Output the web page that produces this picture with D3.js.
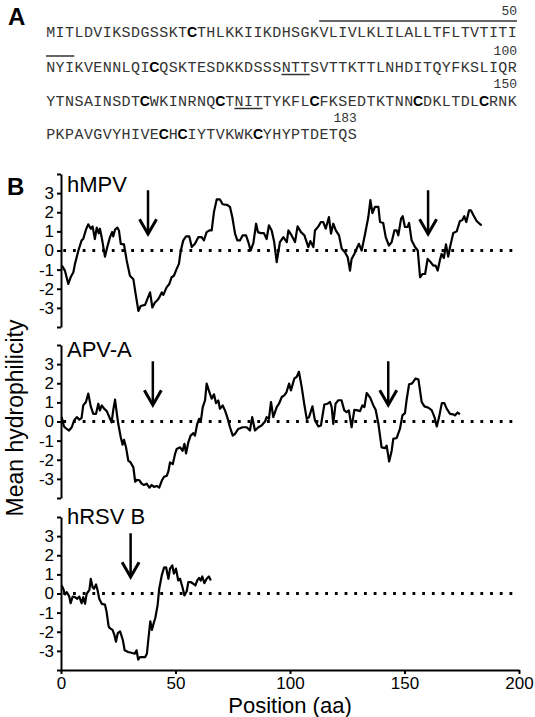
<!DOCTYPE html>
<html>
<head>
<meta charset="utf-8">
<script src="https://cdn.jsdelivr.net/npm/d3@7"></script>
<style>
  body { margin: 0; background: #fff; }
  svg { display: block; }
</style>
</head>
<body>
<svg id="fig" width="535" height="717"></svg>
<script>
// Panel A: protein sequence, 50 residues per row
const seqLines = [
    "MITLDVIKSDGSSKTCTHLKKIIKDHSGKVLIVLKLILALLTFLTVTITI",
    "NYIKVENNLQICQSKTESDKKDSSSNTTSVTTKTTLNHDITQYFKSLIQR",
    "YTNSAINSDTCWKINRNQCTNITTYKFLCFKSEDTKTNNCDKLTDLCRNK",
    "PKPAVGVYHIVECHCIYTVKWKCYHYPTDETQS"
];
const seqNumbers = ["50", "100", "150", "183"];
// [row, first residue, last residue (exclusive)]
const overlines = [[0, 29, 50], [1, 0, 3]];
const underlines = [[1, 25, 28], [2, 20, 23]];

// Panel B: hydrophilicity profiles [position, mean hydrophilicity]
const panelNames = ["hMPV", "APV-A", "hRSV B"];
const hmpv = [
    [0.4,-0.79],[1.7,-1.05],[3.2,-1.75],[4.2,-1.4],[5.4,-1.14],[6.1,-0.7],[7.6,0],[9.0,0.53],[9.7,0.6],
    [10.9,1.09],[11.9,1.37],[13.0,1.14],[13.8,1.26],[14.8,0.6],[15.6,1.2],[16.5,0.9],[17.0,1.14],[17.8,0.67],
    [19.2,-0.32],[20.2,0.18],[21.4,0.7],[22.3,0.96],[22.8,0.74],[23.6,1.09],[24.6,1.2],[25.3,1.05],[26.1,0.35],
    [27.5,0.32],[28.7,-0.53],[30.1,-1.32],[31.6,-1.5],[32.6,-2.28],[33.8,-3.16],[34.8,-2.9],[36.7,-2.84],
    [37.7,-2.54],[38.9,-2.19],[39.9,-2.98],[41.0,-2.72],[42.1,-2.6],[42.9,-2.46],[44.0,-2.19],[44.7,-2.32],
    [46.1,-1.93],[47.3,-1.75],[48.3,-1.4],[49.3,-1.32],[50.5,-0.96],[51.5,-0.7],[52.3,0],[53.4,0.53],
    [54.6,0.74],[56.0,0.74],[57.1,0.18],[58.5,0.35],[60.0,0.7],[61.4,0.7],[62.4,0.53],[63.6,0.96],[64.8,1.05],
    [65.8,1.05],[66.8,2.02],[68.0,2.67],[69.4,2.67],[70.6,2.42],[72.4,2.39],[73.8,2.28],[74.8,1.75],[76.0,0.88],
    [77.0,0.53],[78.2,0.53],[79.3,0.79],[80.8,0.79],[81.8,0.44],[82.8,0],[84.0,0.39],[85.2,1.4],[86.0,0.96],
    [87.2,0.91],[88.6,0.91],[89.8,0.6],[90.8,1.32],[92.0,1.05],[93.1,0.44],[94.2,-0.61],[95.6,0.44],[97.1,0.7],
    [98.6,0.44],[99.3,1.05],[100.7,0.79],[102.2,0.44],[103.3,1.26],[104.8,0.96],[106.3,0.79],[108.0,0.18],
    [108.9,0.49],[110.2,0.18],[110.9,1.05],[112.4,1.26],[113.5,1.49],[114.5,1.49],[115.6,1.14],[117.0,1.75],
    [117.9,0.88],[118.9,1.4],[120.0,1.05],[121.4,0.79],[122.6,0.09],[124.0,-0.09],[125.2,-0.35],[126.2,-1.05],
    [126.9,-0.44],[128.1,-0.18],[129.1,0.09],[130.1,0.35],[131.3,0],[132.8,0.88],[134.2,1.75],[135.1,2.63],
    [136.0,1.96],[137.1,2.28],[138.6,2.28],[139.3,1.49],[140.7,1.44],[141.8,0.7],[143.2,0.26],[144.4,0.44],
    [145.6,1.05],[146.6,1.05],[147.3,0.79],[148.5,1.67],[149.2,1.79],[150.2,1.23],[151.4,1.23],[152.0,1.44],
    [153.1,0.53],[154.6,0.18],[155.8,0],[156.8,-1.4],[157.8,-1.23],[159.0,-1.23],[160.1,-0.44],[161.1,-0.56],
    [162.6,-0.79],[163.6,-0.79],[164.5,-1.05],[165.5,-0.49],[166.2,-0.18],[167.2,-0.39],[168.1,0.32],
    [169.1,-0.32],[169.9,0.18],[171.3,0.91],[172.8,1.0],[174.2,1.54],[175.2,1.58],[176.1,1.79],[177.0,1.49],
    [178.2,2.1],[179.0,2.1],[180.1,1.84],[181.5,1.54],[183.0,1.37],[183.7,1.32]
];
const apvA = [
    [0.3,0.23],[1.3,-0.26],[2.5,-0.39],[3.5,-0.47],[4.7,-0.3],[5.7,0.05],[6.9,0.23],[8.0,0.09],[9.0,0.19],
    [9.7,0.84],[10.9,1.02],[11.9,1.46],[13.0,0.79],[14.1,0.4],[15.3,0.4],[16.3,0.93],[17.0,0.58],[17.8,0.84],
    [18.8,0.67],[20.0,0.54],[21.1,0.23],[22.1,-0.04],[22.8,0.58],[23.6,1.14],[24.3,0.49],[25.0,-0.12],
    [26.1,-0.82],[26.9,-1.21],[27.5,-0.96],[28.4,-1.35],[29.4,-2.05],[30.4,-2.14],[31.6,-2.4],[32.4,-3.15],
    [33.2,-3.05],[34.2,-3.07],[35.2,-3.25],[36.2,-3.32],[37.4,-3.25],[38.6,-3.46],[39.6,-3.32],[40.6,-3.42],
    [41.8,-3.37],[42.9,-3.46],[44.0,-3.1],[45.0,-2.89],[46.2,-2.84],[46.9,-2.6],[47.6,-2.14],[48.8,-2.23],
    [49.8,-1.7],[50.5,-1.44],[52.0,-1.35],[53.1,-1.53],[53.9,-1.17],[54.6,-1.67],[55.6,-1.09],[56.6,-0.74],
    [57.8,-0.61],[58.5,-0.74],[59.5,-0.12],[60.3,0.14],[61.1,0.05],[61.9,0.75],[62.9,1.1],[63.6,1.98],
    [64.8,1.54],[65.8,1.19],[66.8,1.42],[67.7,0.96],[68.7,1.1],[69.4,0.67],[70.6,0.84],[71.6,0.58],[72.6,0.23],
    [73.8,-0.3],[75.0,-0.74],[76.0,-0.65],[77.4,-0.39],[79.3,-0.3],[81.1,-0.3],[82.5,-0.47],[83.5,0.23],
    [84.7,-0.47],[86.2,-0.3],[87.6,-0.21],[89.1,0.0],[89.8,0.23],[90.8,0.14],[91.7,1.02],[92.7,0.23],
    [94.2,0.75],[95.2,0.93],[96.4,1.28],[97.5,1.37],[98.5,1.54],[99.6,1.98],[100.4,1.63],[101.9,2.25],
    [102.9,2.33],[103.9,2.6],[105.1,1.81],[106.2,0.93],[107.3,0.14],[108.3,0.23],[109.8,0.79],[110.9,0.05],
    [112.4,-0.26],[113.5,-0.21],[115.0,0.89],[116.4,0.93],[117.5,1.02],[118.2,0.75],[118.9,-0.12],[119.9,0.93],
    [121.1,1.11],[122.5,1.11],[123.7,0.58],[124.7,0.49],[125.7,0.58],[126.9,-0.3],[128.1,0.61],[129.5,0.58],
    [130.6,0.54],[131.6,0.84],[132.5,0.75],[133.5,1.49],[135.0,1.25],[136.4,0.84],[137.4,0.61],[138.6,-0.12],
    [140.0,-1.35],[141.5,-1.39],[142.2,-1.26],[143.3,-2.09],[144.4,-1.53],[145.1,-0.91],[146.6,-0.86],
    [148.0,-0.39],[149.1,0.32],[150.2,0.44],[150.9,1.11],[152.0,1.95],[153.1,1.98],[153.8,2.07],[154.9,2.25],
    [156.1,2.19],[157.5,1.02],[158.7,0.79],[160.5,0.72],[161.9,0.58],[163.1,0.23],[164.1,-0.26],[165.1,0.23],
    [166.3,0.96],[167.4,0.96],[168.4,0.67],[169.9,0.4],[171.3,0.37],[172.0,0.32],[173.2,0.47],[174.2,0.37]
];
const hrsvB = [
    [0.3,0.42],[1.0,0.25],[1.7,-0.05],[2.5,0.07],[3.6,-0.16],[4.2,-0.51],[5.1,-0.16],[6.1,-0.19],[7.1,-0.28],
    [8.0,-0.16],[9.0,-0.51],[9.7,-0.19],[10.5,-0.54],[11.2,-0.02],[12.4,0.19],[13.0,0.77],[13.8,0.33],
    [14.4,0.25],[15.3,0.47],[16.0,0.16],[16.7,-0.28],[17.8,-0.54],[19.2,-0.58],[19.9,-0.95],[20.8,-1.72],
    [21.3,-1.81],[22.5,-1.9],[23.3,-2.16],[24.0,-2.52],[24.8,-2.07],[25.8,-1.98],[27.0,-2.43],[27.8,-2.97],
    [29.3,-3.06],[30.7,-3.1],[32.2,-3.15],[33.0,-2.97],[33.7,-3.46],[34.5,-3.33],[35.7,-3.33],[36.7,-3.33],
    [37.5,-3.15],[38.2,-2.34],[39.0,-1.45],[39.7,-1.9],[40.4,-1.59],[41.2,-1.27],[42.2,-0.6],[42.9,0.25],
    [44.0,0.95],[45.0,1.35],[45.9,1.37],[46.9,0.77],[47.6,1.3],[48.6,1.47],[49.3,1.04],[50.2,1.3],[51.2,0.68],
    [52.0,0.77],[53.1,0.3],[53.9,-0.1],[54.9,0.12],[55.6,0.6],[56.6,0.6],[57.8,0.51],[58.7,0.42],[59.5,0.68],
    [60.3,0.82],[61.0,0.68],[61.7,0.89],[62.6,0.54],[63.6,0.77],[64.6,0.89],[65.4,0.68]
];
const profiles = [hmpv, apvA, hrsvB];
// arrows mark the predicted hydrophobic regions (position in aa)
const arrowPositions = [[38, 160.3], [40.1, 142.9], [30.4]];
const yTickValues = [-4, -3, -2, -1, 0, 1, 2, 3, 4];
const xTickValues = [0, 50, 100, 150, 200];

const svg = d3.select("#fig");
const sans = "Liberation Sans, Arial, sans-serif";
const mono = "Liberation Mono, Courier New, monospace";

// ---- Panel A ----
svg.append("text")
    .attr("x", 8).attr("y", 25)
    .attr("font-family", sans).attr("font-weight", "bold").attr("font-size", 24)
    .text("A");

const charX = d3.scaleLinear().domain([0, 50]).range([46, 517]);
const rowY = [37, 72, 106, 138.5];
const numY = [15, 55, 88, 122];

seqLines.forEach(function(line, r) {
    const g = svg.append("g");
    g.selectAll("text")
        .data(line.split(""))
        .enter()
        .append("text")
        .attr("x", (d, i) => charX(i + 0.5))
        .attr("y", rowY[r])
        .attr("text-anchor", "middle")
        .attr("font-family", d => d === "C" ? sans : mono)
        .attr("font-weight", d => d === "C" ? "bold" : "normal")
        .attr("font-size", d => d === "C" ? 14 : 15)
        .attr("fill", d => d === "C" ? "#000" : "#333")
        .text(d => d);

    svg.append("text")
        .attr("x", charX(line.length))
        .attr("y", numY[r])
        .attr("text-anchor", "end")
        .attr("font-family", mono)
        .attr("font-size", 13)
        .attr("fill", "#333")
        .text(seqNumbers[r]);
});

svg.selectAll(".overline")
    .data(overlines)
    .enter()
    .append("line")
    .attr("x1", d => charX(d[1])).attr("x2", d => charX(d[2]))
    .attr("y1", d => rowY[d[0]] - 16).attr("y2", d => rowY[d[0]] - 16)
    .attr("stroke", "#333").attr("stroke-width", 1.5);

svg.selectAll(".underline")
    .data(underlines)
    .enter()
    .append("line")
    .attr("x1", d => charX(d[1])).attr("x2", d => charX(d[2]))
    .attr("y1", d => rowY[d[0]] + 2.5).attr("y2", d => rowY[d[0]] + 2.5)
    .attr("stroke", "#333").attr("stroke-width", 1.5);

// ---- Panel B ----
svg.append("text")
    .attr("x", 7).attr("y", 195)
    .attr("font-family", sans).attr("font-weight", "bold").attr("font-size", 24)
    .text("B");

const x = d3.scaleLinear().domain([0, 200]).range([61, 519]);
const panelTops = [174, 345, 517];
const panelH = 153;
const labelY = [3.05, 3.37, 3.63];

profiles.forEach(function(data, i) {
    const y = d3.scaleLinear().domain([-4, 4]).range([panelTops[i] + panelH, panelTops[i]]);
    const g = svg.append("g");

    const yAxis = g.append("g")
        .attr("transform", "translate(" + x(0) + ",0)")
        .call(d3.axisLeft(y)
            .tickValues(yTickValues)
            .tickSize(4)
            .tickSizeOuter(0)
            .tickPadding(3)
            .tickFormat(d => Math.abs(d) === 4 ? "" : String(d)));
    yAxis.attr("font-family", sans).attr("font-size", 17);
    yAxis.select(".domain").attr("stroke-width", 2);
    yAxis.selectAll(".tick line").attr("stroke-width", 2);

    // dotted zero line
    g.append("line")
        .attr("x1", x(1)).attr("x2", x(198))
        .attr("y1", y(0)).attr("y2", y(0))
        .attr("stroke", "#000")
        .attr("stroke-width", 2.8)
        .attr("stroke-dasharray", "2.8 6.9");

    g.append("path")
        .datum(data)
        .attr("fill", "none")
        .attr("stroke", "#000")
        .attr("stroke-width", 2.2)
        .attr("stroke-linejoin", "round")
        .attr("d", d3.line().x(d => x(d[0])).y(d => y(d[1])));

    g.append("text")
        .attr("x", x(2.6))
        .attr("y", y(labelY[i]))
        .attr("font-family", sans)
        .attr("font-size", 22)
        .text(panelNames[i]);

    // arrows
    const arr = g.selectAll(".arrow")
        .data(arrowPositions[i])
        .enter()
        .append("g");
    arr.append("line")
        .attr("x1", d => x(d)).attr("x2", d => x(d))
        .attr("y1", y(3.15)).attr("y2", y(0.9))
        .attr("stroke", "#000").attr("stroke-width", 2.5);
    arr.append("path")
        .attr("d", d => "M" + (x(d) - 8.5) + "," + (y(0.9) - 14) + "L" + x(d) + "," + y(0.86) + "L" + (x(d) + 8.5) + "," + (y(0.9) - 14))
        .attr("fill", "none")
        .attr("stroke", "#000").attr("stroke-width", 3);

    if (i === profiles.length - 1) {
        const xAxis = g.append("g")
            .attr("transform", "translate(0," + (panelTops[i] + panelH) + ")")
            .call(d3.axisBottom(x)
                .tickValues(xTickValues)
                .tickSize(4)
                .tickSizeOuter(0)
                .tickPadding(3));
        xAxis.attr("font-family", sans).attr("font-size", 17);
        xAxis.select(".domain").attr("stroke-width", 2);
        xAxis.selectAll(".tick line").attr("stroke-width", 2);
    }
});

// axis titles
svg.append("text")
    .attr("transform", "translate(23,418) rotate(-90)")
    .attr("text-anchor", "middle")
    .attr("font-family", sans)
    .attr("font-size", 23)
    .text("Mean hydrophilicity");

svg.append("text")
    .attr("x", x(100))
    .attr("y", 713)
    .attr("text-anchor", "middle")
    .attr("font-family", sans)
    .attr("font-size", 22)
    .text("Position (aa)");
</script>
</body>
</html>
